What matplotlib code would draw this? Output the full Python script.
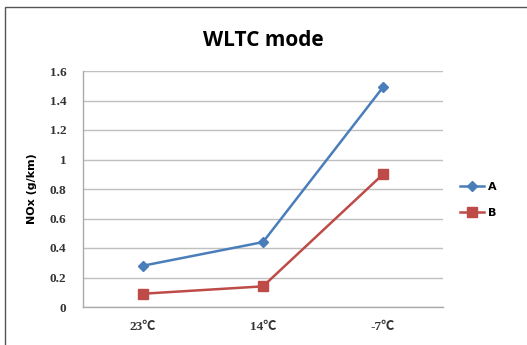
import matplotlib
matplotlib.use("Agg")
import matplotlib.pyplot as plt
from matplotlib.patches import Rectangle

categories = ["23℃", "14℃", "-7℃"]
series_a = [0.28, 0.44, 1.49]
series_b = [0.09, 0.14, 0.90]
yticks = [0, 0.2, 0.4, 0.6, 0.8, 1, 1.2, 1.4, 1.6]
ytick_labels = ["0", "0.2", "0.4", "0.6", "0.8", "1", "1.2", "1.4", "1.6"]

fig = plt.figure(figsize=(5.27, 3.45), dpi=100)
fig.patch.set_facecolor("white")

# outer chart frame (cut at right and bottom)
fig.patches.append(Rectangle((5/527, -0.05), 1.2, (345-7)/345 + 0.05, transform=fig.transFigure,
                             fill=False, edgecolor="#555555", linewidth=1.0))

ax = fig.add_axes([83/527, 38/345, 360/527, 236/345])
x = list(range(len(categories)))
ax.plot(x, series_a, color="#4A7EBB", linewidth=1.8, marker="D", markersize=5, label="A")
ax.plot(x, series_b, color="#BE4B48", linewidth=1.8, marker="s", markersize=7.5, label="B")

ax.set_xlim(-0.5, 2.5)
ax.set_ylim(0, 1.6)
ax.set_yticks(yticks)
ax.set_yticklabels(ytick_labels)
ax.set_xticks(x)
ax.set_xticklabels(categories)
ax.yaxis.grid(True, color="#C0C0C0", linewidth=1.0)
ax.set_axisbelow(True)
for s in ["top", "right"]:
    ax.spines[s].set_visible(False)
for s in ["left", "bottom"]:
    ax.spines[s].set_color("#AAAAAA")
    ax.spines[s].set_linewidth(1.0)
ax.tick_params(axis="y", length=0, pad=12)
ax.tick_params(axis="x", length=0, pad=10)
for lbl in ax.get_yticklabels() + ax.get_xticklabels():
    lbl.set_fontfamily(["Liberation Serif", "Noto Sans CJK SC", "DejaVu Sans"])
    lbl.set_fontweight("bold")
    lbl.set_fontsize(9.5)
    lbl.set_color("#333333")

ax.set_ylabel("NOx (g/km)", fontsize=8, fontweight="bold", family="DejaVu Sans", labelpad=9)

fig.text(263/527, 1 - 40/345, "WLTC mode", ha="center", va="center",
         fontsize=15, fontweight="bold", family="Open Sans")

leg = ax.legend(loc="center left", bbox_to_anchor=(450/527, 1 - 200/345),
                bbox_transform=fig.transFigure, frameon=False, fontsize=8,
                handlelength=2.2, labelspacing=1.4, handletextpad=0.3)
for t in leg.get_texts():
    t.set_fontweight("bold")
    t.set_fontfamily("DejaVu Sans")

fig.savefig("out.png", dpi=100)
